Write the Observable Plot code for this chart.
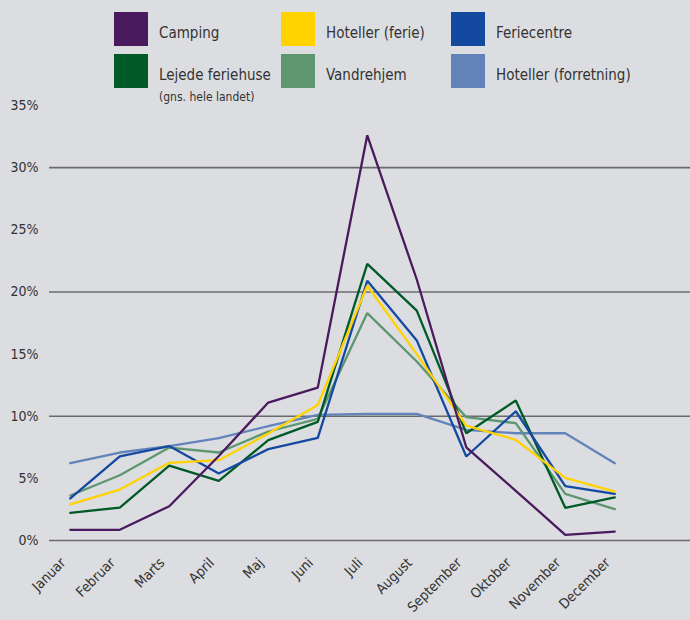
<!DOCTYPE html>
<html>
<head>
<meta charset="utf-8">
<script src="https://cdn.jsdelivr.net/npm/d3@7"></script>
<script src="https://cdn.jsdelivr.net/npm/@observablehq/plot@0.6"></script>
<style>
  html, body { margin: 0; padding: 0; background: #dcdde0; }
  #wrap { position: relative; width: 690px; height: 620px; background: #dcdde0; font-family: "DejaVu Sans Condensed", "DejaVu Sans", sans-serif; color: #333; overflow: hidden; }
  .leg { position: absolute; display: flex; align-items: flex-start; }
  .sw { width: 34px; height: 34px; flex: none; }
  .lab { margin-left: 11px; font-size: 15px; line-height: 18px; padding-top: 12px; color: #333; white-space: nowrap; }
  .sub { font-size: 12px; line-height: 14px; display: block; padding-top: 6px; }
  svg { position: absolute; left: 0; top: 0; }
</style>
</head>
<body>
<div id="wrap"></div>
<script>
const months = ["Januar","Februar","Marts","April","Maj","Juni","Juli","August","September","Oktober","November","December"];
const seriesNames = ["Camping","Hoteller (ferie)","Feriecentre","Lejede feriehuse","Vandrehjem","Hoteller (forretning)"];
const seriesColors = ["#4a1a5e","#ffd200","#1449a0","#005a27","#5e966f","#6383bb"];

const camping     = [0.86, 0.86, 2.76, 6.8, 11.1, 12.3, 32.6, 21.0, 7.5, 4.0, 0.46, 0.72];
const hotelFerie  = [2.9, 4.1, 6.25, 6.46, 8.6, 10.9, 20.5, 15.0, 9.25, 8.1, 5.04, 3.94];
const feriecentre = [3.38, 6.76, 7.6, 5.39, 7.35, 8.26, 20.9, 16.1, 6.76, 10.4, 4.37, 3.75];
const feriehuse   = [2.23, 2.65, 6.03, 4.8, 8.07, 9.55, 22.26, 18.5, 8.63, 11.26, 2.63, 3.46];
const vandrehjem  = [3.62, 5.25, 7.48, 7.08, 8.77, 9.79, 18.3, 14.4, 9.92, 9.44, 3.75, 2.52];
const hotelForr   = [6.22, 7.08, 7.6, 8.23, 9.2, 10.1, 10.19, 10.19, 8.9, 8.63, 8.63, 6.22];

const yTicks = [0, 5, 10, 15, 20, 25, 30, 35];
const gridValues = [0, 10, 20, 30];

const seriesValues = [camping, hotelFerie, feriecentre, feriehuse, vandrehjem, hotelForr];
const data = [];
seriesNames.forEach((name, s) => {
  seriesValues[s].forEach((v, i) => data.push({series: name, i, month: months[i], value: v}));
});
const drawOrder = [5, 4, 3, 2, 1, 0].map(s => seriesNames[s]);

const wrap = document.getElementById("wrap");

const chart = Plot.plot({
  width: 690,
  height: 620,
  marginLeft: 49,
  marginRight: 0,
  marginTop: 105,
  marginBottom: 80,
  style: { background: "transparent", fontFamily: "'DejaVu Sans Condensed', 'DejaVu Sans', sans-serif", fontSize: "14px", color: "#333", overflow: "visible" },
  x: { type: "linear", domain: [-0.42, 12.53], ticks: d3.range(months.length), tickFormat: i => months[i], tickRotate: -45, tickSize: 0, label: null },
  y: { domain: [0, 35], ticks: yTicks, tickFormat: d => d + "%", tickSize: 0, tickPadding: 11, label: null },
  color: { domain: seriesNames, range: seriesColors },
  marks: [
    Plot.ruleY(gridValues, { stroke: "#6b6b6b", strokeWidth: 1.6 }),
    ...drawOrder.map(name => Plot.line(data.filter(d => d.series === name), { x: "i", y: "value", stroke: "series", strokeWidth: 2.3, strokeLinejoin: "miter" })),
    Plot.axisY({ ticks: yTicks, tickFormat: d => d + "%", tickSize: 0, tickPadding: 11, fontSize: 14 }),
    Plot.axisX({ ticks: d3.range(months.length), tickFormat: i => months[i], tickRotate: -45, tickSize: 0, tickPadding: 20, dx: -7, fontSize: 14 })
  ]
});
wrap.appendChild(chart);

// Legend (HTML, positioned over the chart area)
const legPos = [
  [114, 12], [281, 12], [451, 12],
  [114, 54], [281, 54], [451, 54]
];
seriesNames.forEach((name, s) => {
  const el = document.createElement("div");
  el.className = "leg";
  el.style.left = legPos[s][0] + "px";
  el.style.top = legPos[s][1] + "px";
  const sw = document.createElement("div");
  sw.className = "sw";
  sw.style.background = seriesColors[s];
  const lab = document.createElement("div");
  lab.className = "lab";
  lab.textContent = name;
  if (s === 3) {
    const sub = document.createElement("span");
    sub.className = "sub";
    sub.textContent = "(gns. hele landet)";
    lab.appendChild(sub);
  }
  el.appendChild(sw);
  el.appendChild(lab);
  wrap.appendChild(el);
});
</script>
</body>
</html>
